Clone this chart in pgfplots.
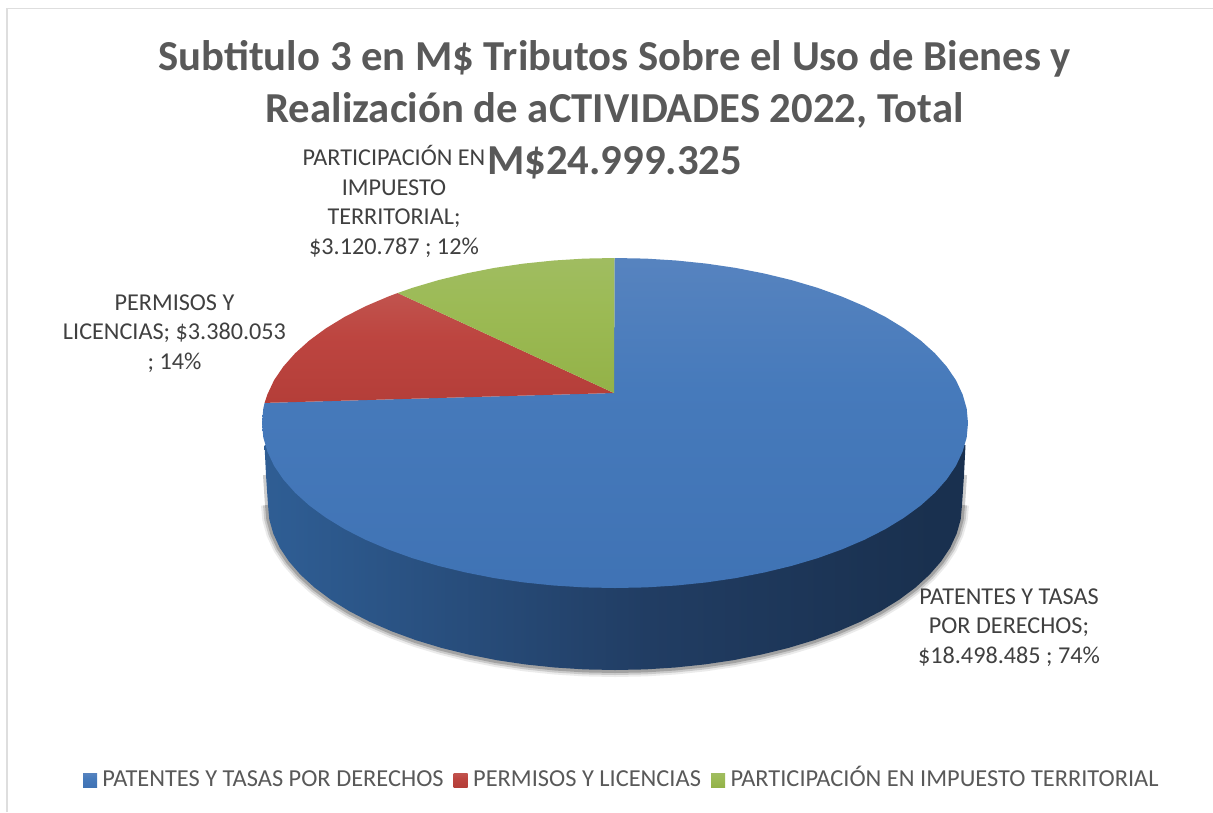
\documentclass[border=0pt]{standalone}
\usepackage{fontspec}
\setmainfont{Carlito}
\usepackage{pgfplots}
\usepackage{pgfplotstable}
\pgfplotsset{compat=1.18}

\definecolor{titlegray}{HTML}{595959}
\definecolor{labelgray}{HTML}{404040}
\definecolor{framegray}{HTML}{DEDEDE}

\pgfdeclareverticalshading{topblue}{100bp}{rgb(0bp)=(0.227,0.427,0.686); rgb(55bp)=(0.275,0.478,0.733); rgb(100bp)=(0.42,0.56,0.77)}
\pgfdeclareverticalshading{topred}{100bp}{rgb(0bp)=(0.68,0.22,0.20); rgb(55bp)=(0.74,0.27,0.25); rgb(100bp)=(0.78,0.40,0.38)}
\pgfdeclareverticalshading{topgreen}{100bp}{rgb(0bp)=(0.55,0.67,0.24); rgb(55bp)=(0.61,0.73,0.33); rgb(100bp)=(0.65,0.75,0.44)}
\pgfdeclarehorizontalshading{sideblue}{100bp}{rgb(0bp)=(0.24,0.45,0.70); rgb(27bp)=(0.18,0.36,0.57); rgb(52bp)=(0.13,0.24,0.39); rgb(72bp)=(0.10,0.19,0.31); rgb(100bp)=(0.10,0.18,0.30)}

% pie outlines, in pixels of the reference
\pgfplotstableread{
x y
614 393
264.6 402.9
263.3 408.6
262 423
263.3 437.4
267.4 451.6
274 465.7
283.3 479.4
295.1 492.7
309.3 505.5
325.8 517.6
344.6 529.1
365.4 539.7
388.1 549.4
412.5 558.2
438.5 565.9
465.8 572.5
494.3 578.1
523.6 582.4
553.7 585.5
584.2 587.4
615 588
645.8 587.4
676.3 585.5
706.4 582.4
735.7 578.1
764.2 572.5
791.5 565.9
817.5 558.2
841.9 549.4
864.6 539.7
885.4 529.1
904.2 517.6
920.7 505.5
934.9 492.7
946.7 479.4
956 465.7
962.6 451.6
966.7 437.4
968 423
966.7 408.6
962.6 394.4
956 380.3
946.7 366.6
934.9 353.3
920.7 340.5
904.2 328.4
885.4 316.9
864.6 306.3
841.9 296.6
817.5 287.8
791.5 280.1
764.2 273.5
735.7 267.9
706.4 263.6
676.3 260.5
645.8 258.6
614.5 258
}\wedgeblue

\pgfplotstableread{
x y
614 393
397.7 293
388.1 296.6
365.4 306.3
344.6 316.9
325.8 328.4
309.3 340.5
295.1 353.3
283.3 366.6
274 380.3
267.4 394.4
264.6 402.9
}\wedgered

\pgfplotstableread{
x y
614 393
614.5 258
584.2 258.6
553.7 260.5
523.6 263.6
494.3 267.9
465.8 273.5
438.5 280.1
412.5 287.8
397.7 293
}\wedgegreen

\pgfplotstableread{
x y
264.5 445
266 475
268 505
269.3 519.4
273.3 533.6
279.8 547.7
288.9 561.4
300.5 574.7
314.5 587.5
330.7 599.6
349.2 611.1
369.6 621.7
392 631.4
416 640.2
441.5 647.9
468.4 654.5
496.3 660.1
525.2 664.4
554.8 667.5
584.7 669.4
615 670
645.3 669.4
675.2 667.5
704.8 664.4
733.7 660.1
761.6 654.5
788.5 647.9
814 640.2
838 631.4
860.4 621.7
880.8 611.1
899.3 599.6
915.5 587.5
929.5 574.7
941.1 561.4
950.2 547.7
956.7 533.6
960.7 519.4
962 505
964 475
965.5 445
}\edgelow

\begin{document}
\begin{tikzpicture}
\begin{axis}[
  name=pie, scale only axis, width=1213pt, height=812pt, hide axis, clip=false,
  xmin=0, xmax=1213, ymin=0, ymax=812, y dir=reverse,
  title={Subtitulo 3 en M\$ Tributos Sobre el Uso de Bienes y\\Realización de aCTIVIDADES 2022, Total\\M\$24.999.325},
  title style={at={(axis cs:614.5,46.5)}, anchor=north, align=center, inner sep=0pt, text=titlegray,
    font=\fontsize{42.7}{52}\selectfont\bfseries},
  legend columns=3,
  legend style={at={(axis cs:83,780)}, anchor=west, draw=none, fill=none, inner sep=0pt, outer sep=0pt,
    font=\fontsize{24.4}{28}\selectfont, text=titlegray,
    nodes={text height=18pt, text depth=6pt, inner xsep=3pt, inner ysep=0pt},
    /tikz/every even column/.append style={column sep=7pt}},
]
% frame of the chart area
\addplot[framegray, line width=1.8pt, forget plot] coordinates {(7,812) (7,8.5) (1213,8.5)};

% soft shadow under the side wall, thinning towards its ends
\addplot[black, opacity=0.08, line width=14pt, line join=round, restrict y to domain=500:700, forget plot] table[x=x,y=y] {\edgelow};
\addplot[black, opacity=0.14, line width=10pt, line join=round, restrict y to domain=485:700, forget plot] table[x=x,y=y] {\edgelow};
\addplot[black, opacity=0.20, line width=6pt, line join=round, restrict y to domain=470:700, forget plot] table[x=x,y=y] {\edgelow};

% side wall
\addplot[draw=none, shade, shading=sideblue, forget plot] table[x=x,y=y] {\edgelow} --cycle;

% top face
\addplot[draw=none, shade, shading=topblue,
  legend image code/.code={\shade[shading=topblue] (0pt,-7pt) rectangle (14pt,7pt); \path (16.5pt,0pt);}]
  table[x=x,y=y] {\wedgeblue} --cycle;
\addlegendentry{PATENTES Y TASAS POR DERECHOS}
\addplot[draw=none, shade, shading=topred,
  legend image code/.code={\shade[shading=topred] (0pt,-7pt) rectangle (14pt,7pt); \path (16.5pt,0pt);}]
  table[x=x,y=y] {\wedgered} --cycle;
\addlegendentry{PERMISOS Y LICENCIAS}
\addplot[draw=none, shade, shading=topgreen,
  legend image code/.code={\shade[shading=topgreen] (0pt,-7pt) rectangle (14pt,7pt); \path (16.5pt,0pt);}]
  table[x=x,y=y] {\wedgegreen} --cycle;
\addlegendentry{PARTICIPACIÓN EN IMPUESTO TERRITORIAL}

% data labels
\node[align=center, text=labelgray, inner sep=0pt, font=\fontsize{24.2}{29.6}\selectfont] at (axis cs:394,201.5)
  {PARTICIPACIÓN EN\\IMPUESTO\\TERRITORIAL;\\\$3.120.787 ; 12\%};
\node[align=center, text=labelgray, inner sep=0pt, font=\fontsize{24.2}{29.6}\selectfont] at (axis cs:174.5,333.5)
  {PERMISOS Y\\LICENCIAS; \$3.380.053\\; 14\%};
\node[align=center, text=labelgray, inner sep=0pt, font=\fontsize{24.2}{29.6}\selectfont] at (axis cs:1009,627.5)
  {PATENTES Y TASAS\\POR DERECHOS;\\\$18.498.485 ; 74\%};
\end{axis}
\pgfresetboundingbox
\useasboundingbox (pie.south west) rectangle (pie.north east);
\end{tikzpicture}
\end{document}
